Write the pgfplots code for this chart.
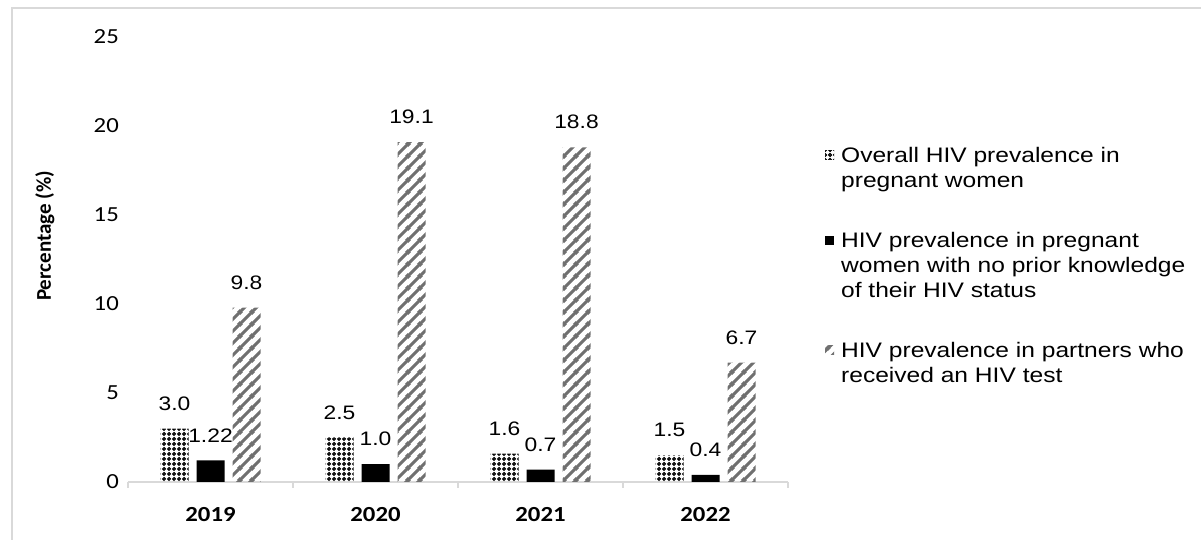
\documentclass[border=0pt]{standalone}
\usepackage{fontspec}
\setmainfont{Carlito}
\newfontfamily\arialS[FakeStretch=1.17]{Liberation Sans}
\newfontfamily\carS[FakeStretch=1.15]{Carlito}
\usepackage{pgfplots}
\pgfplotsset{compat=1.18}
\usetikzlibrary{patterns}
\definecolor{framegray}{HTML}{D9D9D9}
\definecolor{hatchgray}{HTML}{707070}

\pgfdeclarepatternformonly{wstripes}{\pgfpointorigin}{\pgfpoint{12bp}{12bp}}{\pgfpoint{12bp}{12bp}}{%
  \pgfsetlinewidth{3.4bp}%
  \pgfpathmoveto{\pgfpoint{-2bp}{-2bp}}\pgfpathlineto{\pgfpoint{14bp}{14bp}}%
  \pgfpathmoveto{\pgfpoint{-2bp}{10bp}}\pgfpathlineto{\pgfpoint{2bp}{14bp}}%
  \pgfpathmoveto{\pgfpoint{10bp}{-2bp}}\pgfpathlineto{\pgfpoint{14bp}{2bp}}%
  \pgfusepath{stroke}}

\pgfdeclarepatternformonly{rings}{\pgfpointorigin}{\pgfpoint{4.5bp}{4.5bp}}{\pgfpoint{4.5bp}{4.5bp}}{%
  \pgfsetlinewidth{1.3bp}%
  \pgfpathcircle{\pgfpoint{2.25bp}{2.25bp}}{1.5bp}%
  \pgfusepath{stroke}}

\begin{document}
\begin{tikzpicture}[x=1bp,y=1bp]
\path[use as bounding box] (0,0) rectangle (1201,540);
\draw[framegray, line width=1.5bp] (12,0) -- (12,532) -- (1201,532);
\begin{axis}[
  at={(128bp,58bp)}, anchor=south west,
  scale only axis, width=660bp, height=445bp,
  xmin=-0.5, xmax=3.5, ymin=0, ymax=25,
  ybar=8bp, bar width=28bp,
  axis x line*=bottom, axis y line*=left,
  x axis line style={framegray, line width=1.3bp},
  y axis line style={draw=none},
  xtick={-0.5,0.5,1.5,2.5,3.5},
  xticklabels={2019,2020,2021,2022},
  x tick label as interval,
  xtick style={framegray, line width=1.3bp},
  major tick length=6bp, tick align=outside,
  ytick={0,5,10,15,20,25},
  ytick style={draw=none},
  /pgf/number format/assume math mode=true,
  yticklabel style={font=\carS\fontsize{21.5bp}{25bp}\selectfont, anchor=east, inner sep=0pt, xshift=-3bp},
  xticklabel style={font=\carS\bfseries\fontsize{21.5bp}{25bp}\selectfont, anchor=center, inner sep=0pt, yshift=-27bp},
  ylabel={Percentage (\%)},
  ylabel style={at={(axis description cs:-0.1258,0.553)}, anchor=center, font=\bfseries\fontsize{21bp}{24bp}\selectfont},
  nodes near coords,
  point meta=explicit symbolic,
  nodes near coords style={font=\arialS\fontsize{19.5bp}{22bp}\selectfont, inner sep=0pt, anchor=south, yshift=18bp},
  legend style={at={(axis description cs:1.056,0.757)}, anchor=north west, draw=none, fill=none, inner sep=0pt,
    row sep=35bp, column sep=7bp, nodes={inner sep=0pt, text depth={}}, cells={anchor=base west},
    font=\arialS\fontsize{21bp}{25bp}\selectfont},
  legend image code/.code={\path[#1, draw=none] (0bp,3bp) rectangle (9bp,12bp);},
]
\addplot[draw=none, pattern=rings, pattern color=black] coordinates {(0,3.0)[3.0] (1,2.5)[2.5] (2,1.6)[1.6] (3,1.5)[1.5]};
\addlegendentry{\parbox[t]{380bp}{\strut Overall HIV prevalence in\\ pregnant women\strut}}
\addplot[draw=none, fill=black] coordinates {(0,1.22)[1.22] (1,1.0)[1.0] (2,0.7)[0.7] (3,0.4)[0.4]};
\addlegendentry{\parbox[t]{380bp}{\strut HIV prevalence in pregnant\\ women with no prior knowledge\\ of their HIV status\strut}}
\addplot[draw=none, pattern=wstripes, pattern color=hatchgray] coordinates {(0,9.8)[9.8] (1,19.1)[19.1] (2,18.8)[18.8] (3,6.7)[6.7]};
\addlegendentry{\parbox[t]{380bp}{\strut HIV prevalence in partners who\\ received an HIV test\strut}}
\end{axis}
\end{tikzpicture}
\end{document}
